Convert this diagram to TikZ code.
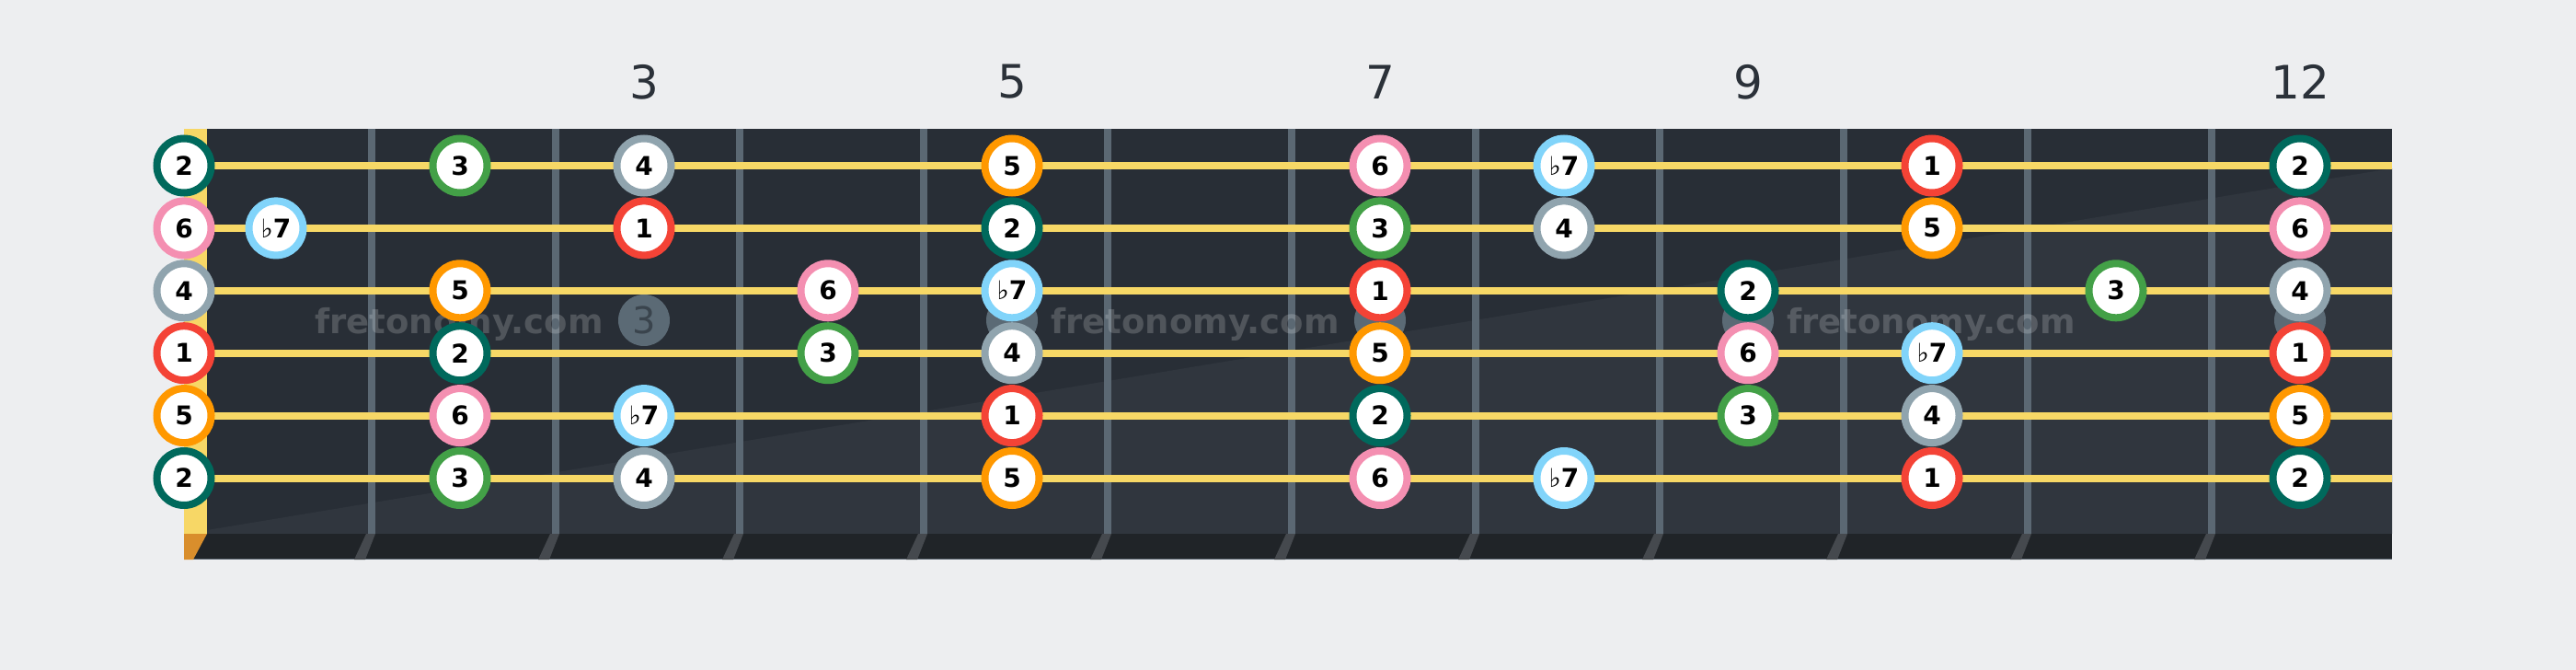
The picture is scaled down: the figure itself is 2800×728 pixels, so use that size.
\documentclass[tikz,border=0pt]{standalone}
\usepackage{fontspec}
\setmainfont{DejaVu Sans}
\definecolor{bg}{HTML}{EDEEF0}
\definecolor{board}{HTML}{282E36}
\definecolor{boardlt}{HTML}{30363E}
\definecolor{stripcol}{HTML}{202428}
\definecolor{edgecol}{HTML}{5D6874}
\definecolor{nutcol}{HTML}{F7D766}
\definecolor{nutlow}{HTML}{D98E2C}
\definecolor{strcol}{HTML}{F7D866}
\definecolor{fretcol}{HTML}{5B6873}
\definecolor{fretlow}{HTML}{45494E}
\definecolor{inlaycol}{HTML}{5B6A75}
\definecolor{inlaytxt}{HTML}{3A444D}
\definecolor{numcol}{HTML}{2B3139}
\definecolor{c1}{HTML}{F44336}
\definecolor{c2}{HTML}{00695C}
\definecolor{c3}{HTML}{43A047}
\definecolor{c4}{HTML}{90A4AE}
\definecolor{c5}{HTML}{FF9800}
\definecolor{c6}{HTML}{F48FB1}
\definecolor{c7}{HTML}{81D4FA}
\newcommand\deglab[1]{\ifnum#1=7 {\mdseries ♭}7\else #1\fi}
\begin{document}
\begin{tikzpicture}[x=1pt,y=-1pt,
  note/.style={circle, fill=white, line width=8pt, minimum size=59pt, inner sep=0pt,
    font=\fontsize{28}{28}\selectfont\bfseries, text=black},
  fretnum/.style={font=\fontsize{50}{50}\selectfont, text=numcol, inner sep=0pt},
  wmark/.style={font=\fontsize{37}{37}\selectfont\bfseries, text=white, text opacity=0.19, inner sep=0pt, anchor=base},
  inlay/.style={circle, fill=inlaycol, minimum size=56pt, inner sep=0pt,
    font=\fontsize{40}{40}\selectfont, text=inlaytxt},
  stringline/.style={strcol, line width=8pt},
  fretwire/.style={fretcol, line width=8pt}]
% background
\fill[bg] (0,0) rectangle (2800,728);
\useasboundingbox (0,0) rectangle (2800,728);
% fretboard
\fill[board] (225,140) rectangle (2600,580);
\fill[boardlt] (225,576) -- (2600,183) -- (2600,580) -- (225,580) -- cycle;
\fill[stripcol] (200,580) rectangle (2600,608);
\draw[edgecol, line width=1.5pt] (200,607.5) -- (2600,607.5);
\fill[nutcol] (200,140) rectangle (225,580);
\fill[nutlow] (200,580) -- (225,580) -- (210,608) -- (200,608) -- cycle;
% frets
\foreach \n in {1,...,11}{
  \pgfmathsetmacro\fx{204+200*\n}
  \coordinate (ft\n) at (\fx,140);
  \coordinate (fb\n) at (\fx,580);
  \draw[fretwire] (ft\n) -- (fb\n);
  \fill[fretlow] (\fx-6,580) -- (\fx+4,580) -- (\fx-7,608) -- (\fx-19,608) -- cycle;
}
% inlays
\node[inlay] (in3) at (700,348) {3};
\foreach \n in {5,7,9,12}{
  \pgfmathsetmacro\ix{100+200*\n}
  \node[inlay] (in\n) at (\ix,348) {};
}
% strings
\foreach \s in {1,...,6}{
  \pgfmathsetmacro\sy{180+67.9*(\s-1)}
  \coordinate (sl\s) at (225,\sy);
  \coordinate (sr\s) at (2600,\sy);
  \draw[stringline] (sl\s) -- (sr\s);
}
% watermarks
\node[wmark] (wm1) at (499,362) {fretonomy.com};
\node[wmark] (wm2) at (1299,362) {fretonomy.com};
\node[wmark] (wm3) at (2099,362) {fretonomy.com};
% fret numbers
\node[fretnum] (num3) at (700,89) {3};
\node[fretnum] (num5) at (1100,89) {5};
\node[fretnum] (num7) at (1500,89) {7};
\node[fretnum] (num9) at (1900,89) {9};
\node[fretnum] (num12) at (2500,89) {12};
% notes
\foreach \s/\f/\d in {
  1/0/2, 1/2/3, 1/3/4, 1/5/5, 1/7/6, 1/8/7, 1/10/1, 1/12/2,
  2/0/6, 2/1/7, 2/3/1, 2/5/2, 2/7/3, 2/8/4, 2/10/5, 2/12/6,
  3/0/4, 3/2/5, 3/4/6, 3/5/7, 3/7/1, 3/9/2, 3/11/3, 3/12/4,
  4/0/1, 4/2/2, 4/4/3, 4/5/4, 4/7/5, 4/9/6, 4/10/7, 4/12/1,
  5/0/5, 5/2/6, 5/3/7, 5/5/1, 5/7/2, 5/9/3, 5/10/4, 5/12/5,
  6/0/2, 6/2/3, 6/3/4, 6/5/5, 6/7/6, 6/8/7, 6/10/1, 6/12/2}{
  \pgfmathsetmacro\nx{ifthenelse(\f==0,200,100+200*\f)}
  \pgfmathsetmacro\ny{180+67.9*(\s-1)}
  \node[note, draw=c\d] (n\s-\f) at (\nx,\ny) {\deglab{\d}};
}
\end{tikzpicture}
\end{document}
